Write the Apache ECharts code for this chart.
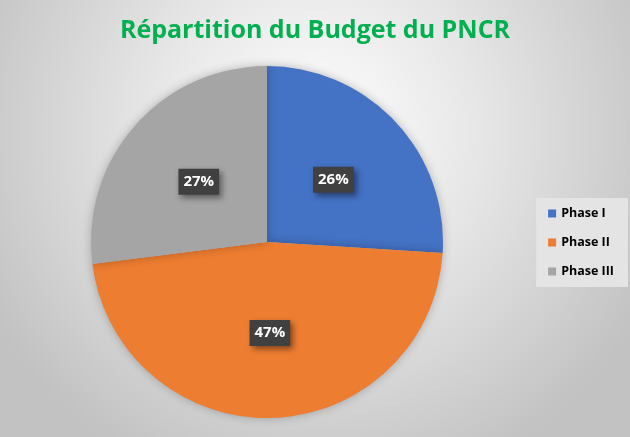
<!DOCTYPE html>
<html>
<head>
<meta charset="utf-8">
<title>Répartition du Budget du PNCR</title>
<script src="https://cdn.jsdelivr.net/npm/echarts@6/dist/echarts.min.js"></script>
<style>
	html,body{margin:0;padding:0;width:100%;height:100%;overflow:hidden;}
	#main{width:630px;height:437px;}
</style>
</head>
<body>
<div id="main"></div>
<script type="text/javascript">
	// données du graphique
	var phases = ["Phase I", "Phase II", "Phase III"];
	var parts = [26, 47, 27];
	var couleurs = ["#4472C4", "#ED7D31", "#A5A5A5"];

	var pieData = [];
	for (var i = 0; i < phases.length; i++) {
		pieData.push({name: phases[i], value: parts[i], itemStyle: {color: couleurs[i]}});
	}

	var myChart = echarts.init(document.getElementById('main'));
	var option = {
		animation: false,
		backgroundColor: {
			type: 'radial', x: 0.5, y: 0.3, r: 0.85,
			colorStops: [
				{offset: 0, color: '#ffffff'},
				{offset: 0.45, color: '#e6e6e6'},
				{offset: 1, color: '#c2c2c2'}
			]
		},
		title: {
			text: 'Répartition du Budget du PNCR',
			left: 'center',
			top: 13,
			textStyle: {
				color: '#00B050',
				fontFamily: 'Open Sans',
				fontWeight: 'bold',
				fontSize: 25
			}
		},
		legend: {
			orient: 'vertical',
			right: 2,
			top: 198,
			itemWidth: 8,
			itemHeight: 8,
			itemGap: 16,
			icon: 'rect',
			padding: [9, 14, 9, 12],
			backgroundColor: '#e4e4e4',
			textStyle: {
				color: '#000',
				fontFamily: 'Open Sans',
				fontWeight: 'bold',
				fontSize: 12.5
			},
			data: phases
		},
		series: [{
			type: 'pie',
			center: [267, 242],
			radius: 176,
			startAngle: 90,
			clockwise: true,
			data: pieData,
			itemStyle: {
				shadowBlur: 10,
				shadowColor: 'rgba(0,0,0,0.25)'
			},
			label: {
				show: true,
				position: 'inside',
				formatter: '{d}%',
				color: '#fff',
				fontFamily: 'Open Sans',
				fontWeight: 'bold',
				fontSize: 15,
				backgroundColor: '#404040',
				padding: [6, 5, 5, 5],
				shadowBlur: 6,
				shadowOffsetX: 3,
				shadowOffsetY: 3,
				shadowColor: 'rgba(0,0,0,0.45)'
			},
			labelLine: {show: false},
			emphasis: {disabled: true}
		}]
	};
	myChart.setOption(option, true);
</script>
</body>
</html>
